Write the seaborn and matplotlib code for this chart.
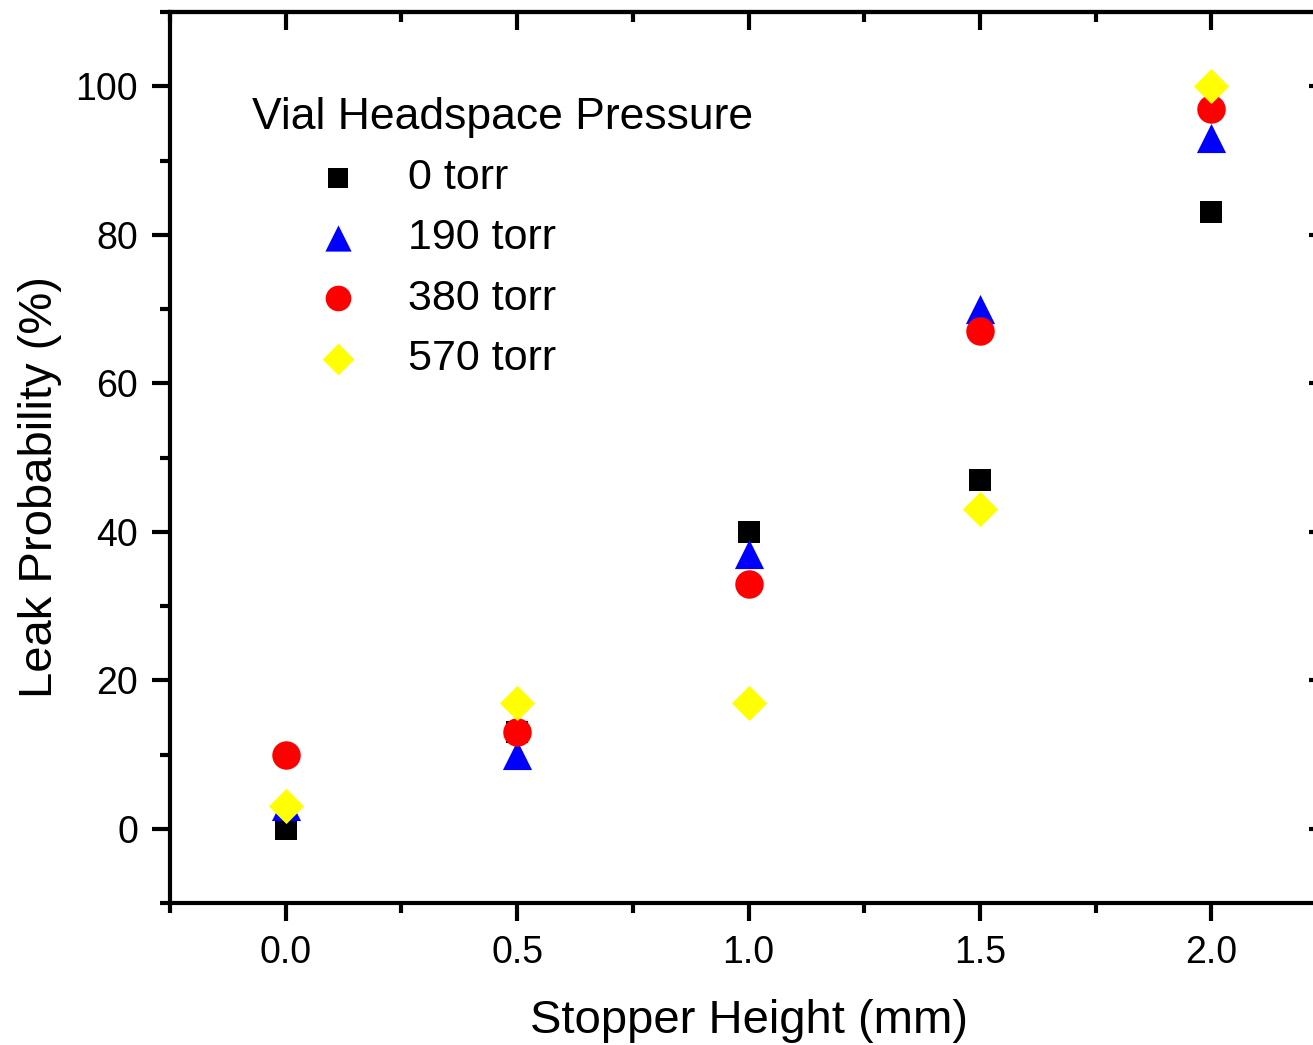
import pandas as pd
import matplotlib
matplotlib.use("Agg")
import matplotlib.pyplot as plt
from matplotlib.ticker import MultipleLocator, FormatStrFormatter
import seaborn as sns

# dados
altura = [0.0, 0.5, 1.0, 1.5, 2.0]
torr_0 = [0, 13, 40, 47, 83]
torr_190 = [3, 10, 37, 70, 93]
torr_380 = [10, 13, 33, 67, 97]
torr_570 = [3, 17, 17, 43, 100]
pressoes = ["0 torr", "190 torr", "380 torr", "570 torr"]
cores = ["black", "blue", "red", "yellow"]
marcadores = ["s", "^", "o", "D"]
tamanhos = [270, 440, 420, 320]

df = pd.DataFrame({
    "Stopper Height (mm)": altura * 4,
    "Leak Probability (%)": torr_0 + torr_190 + torr_380 + torr_570,
    "Pressure": [p for p in pressoes for _ in altura],
})

sns.set_style("ticks")
plt.rcParams["font.family"] = ["Liberation Sans", "DejaVu Sans"]
plt.rcParams["text.color"] = "black"
plt.rcParams["axes.labelcolor"] = "black"
plt.rcParams["xtick.color"] = "black"
plt.rcParams["ytick.color"] = "black"

fig = plt.figure(figsize=(13.13, 10.45), dpi=100)
ax = fig.add_axes([170 / 1313, 1 - 903 / 1045, (1327 - 170) / 1313, (903 - 12) / 1045])

for p, c, m, s in zip(pressoes, cores, marcadores, tamanhos):
    sns.scatterplot(data=df[df["Pressure"] == p], x="Stopper Height (mm)", y="Leak Probability (%)",
                    color=c, marker=m, s=s, linewidth=0, ax=ax, label=p, clip_on=False, zorder=3)

ax.set_xlim(-0.25, 2.25)
ax.set_ylim(-10, 110)
ax.xaxis.set_major_locator(MultipleLocator(0.5))
ax.xaxis.set_minor_locator(MultipleLocator(0.25))
ax.yaxis.set_major_locator(MultipleLocator(20))
ax.yaxis.set_minor_locator(MultipleLocator(10))
ax.set_yticks([0, 20, 40, 60, 80, 100])
ax.xaxis.set_major_formatter(FormatStrFormatter("%.1f"))

for s in ax.spines.values():
    s.set_linewidth(3)
    s.set_color("black")

ax.tick_params(which="major", direction="out", length=13, width=3, labelsize=27, pad=10)
ax.tick_params(which="minor", direction="out", length=7, width=3)
# ticks de cima e da direita para dentro
sec = ax.secondary_xaxis("top")
sec.xaxis.set_major_locator(MultipleLocator(0.5))
sec.xaxis.set_minor_locator(MultipleLocator(0.25))
sec.tick_params(which="major", direction="in", length=13, width=3, labeltop=False)
sec.tick_params(which="minor", direction="in", length=7, width=3)
sec.spines["top"].set_linewidth(3)
secy = ax.secondary_yaxis("right")
secy.yaxis.set_major_locator(MultipleLocator(20))
secy.yaxis.set_minor_locator(MultipleLocator(10))
secy.tick_params(which="major", direction="in", length=13, width=3, labelright=False)
secy.tick_params(which="minor", direction="in", length=7, width=3)

ax.set_xlabel("Stopper Height (mm)", fontsize=34, labelpad=20)
ax.set_ylabel("Leak Probability (%)", fontsize=34)
ax.yaxis.set_label_coords(-0.093, 0.467)

leg = ax.legend(title="Vial Headspace Pressure", loc="upper left", bbox_to_anchor=(0.056, 0.924),
                frameon=False, fontsize=31, title_fontsize=32, markerscale=0.9,
                handlelength=4.0, handletextpad=-0.38, labelspacing=0.47, borderaxespad=0)
leg._legend_box.align = "left"

fig.savefig("out.png", dpi=100)
